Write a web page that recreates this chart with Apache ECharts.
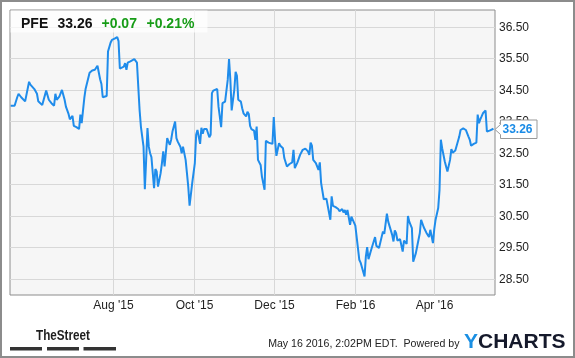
<!DOCTYPE html>
<html><head><meta charset="utf-8">
<script src="https://cdn.jsdelivr.net/npm/echarts@6/dist/echarts.min.js"></script>
<style>html,body{margin:0;padding:0;background:#fff}#c{width:575px;height:358px}</style>
</head><body><div id="c"></div>
<script>
const ticker = 'PFE';
const lastPrice = '33.26';
const change = '+0.07';
const changePct = '+0.21%';

const dates = [
 '2015-05-15','2015-05-18','2015-05-20','2015-05-21','2015-05-23','2015-05-26','2015-05-29','2015-05-30',
 '2015-06-02','2015-06-04','2015-06-05','2015-06-08','2015-06-09','2015-06-11','2015-06-13','2015-06-15','2015-06-17','2015-06-18','2015-06-19','2015-06-21','2015-06-23','2015-06-25','2015-06-26','2015-06-28','2015-06-29',
 '2015-07-01','2015-07-02','2015-07-04','2015-07-06','2015-07-07','2015-07-08','2015-07-10','2015-07-11','2015-07-14','2015-07-15','2015-07-16','2015-07-18','2015-07-20','2015-07-22','2015-07-23','2015-07-24','2015-07-27','2015-07-28','2015-07-29','2015-07-30','2015-07-31',
 '2015-08-02','2015-08-04','2015-08-05','2015-08-06','2015-08-07','2015-08-09','2015-08-10','2015-08-11','2015-08-12','2015-08-13','2015-08-14','2015-08-15','2015-08-17','2015-08-18','2015-08-19','2015-08-20','2015-08-21','2015-08-22','2015-08-24','2015-08-25','2015-08-26','2015-08-27','2015-08-28','2015-08-29','2015-08-30',
 '2015-09-01','2015-09-02','2015-09-03','2015-09-04','2015-09-06','2015-09-07','2015-09-08','2015-09-09','2015-09-11','2015-09-12','2015-09-13','2015-09-14','2015-09-15','2015-09-16','2015-09-17','2015-09-18','2015-09-19','2015-09-21','2015-09-22','2015-09-23','2015-09-25','2015-09-26','2015-09-27','2015-09-28','2015-09-30',
 '2015-10-02','2015-10-03','2015-10-04','2015-10-05','2015-10-06','2015-10-07','2015-10-08','2015-10-09','2015-10-11','2015-10-12','2015-10-13','2015-10-14','2015-10-15','2015-10-16','2015-10-19','2015-10-20','2015-10-22','2015-10-23','2015-10-25','2015-10-26','2015-10-27','2015-10-28','2015-10-29','2015-10-30',
 '2015-11-01','2015-11-02','2015-11-03','2015-11-04','2015-11-06','2015-11-07','2015-11-08','2015-11-10','2015-11-11','2015-11-12','2015-11-13','2015-11-14','2015-11-16','2015-11-17','2015-11-18','2015-11-19','2015-11-21','2015-11-22','2015-11-24','2015-11-25','2015-11-27','2015-11-28','2015-11-30',
 '2015-12-01','2015-12-02','2015-12-03','2015-12-05','2015-12-06','2015-12-08','2015-12-09','2015-12-10','2015-12-11','2015-12-13','2015-12-15','2015-12-16','2015-12-17','2015-12-19','2015-12-21','2015-12-23','2015-12-25','2015-12-27','2015-12-28','2015-12-29','2015-12-30','2015-12-31',
 '2016-01-02','2016-01-04','2016-01-05','2016-01-06','2016-01-08','2016-01-10','2016-01-11','2016-01-13','2016-01-14','2016-01-15','2016-01-17','2016-01-19','2016-01-20','2016-01-22','2016-01-23','2016-01-24','2016-01-25','2016-01-26','2016-01-28','2016-01-29',
 '2016-02-01','2016-02-02','2016-02-04','2016-02-05','2016-02-08','2016-02-09','2016-02-10','2016-02-11','2016-02-13','2016-02-16','2016-02-17','2016-02-19','2016-02-22','2016-02-23','2016-02-24','2016-02-25','2016-02-26','2016-02-29',
 '2016-03-01','2016-03-02','2016-03-03','2016-03-04','2016-03-06','2016-03-07','2016-03-08','2016-03-09','2016-03-11','2016-03-12','2016-03-13','2016-03-15','2016-03-16','2016-03-18','2016-03-19','2016-03-21','2016-03-22','2016-03-24','2016-03-26','2016-03-28','2016-03-29','2016-03-31',
 '2016-04-01','2016-04-02','2016-04-04','2016-04-05','2016-04-06','2016-04-07','2016-04-09','2016-04-11','2016-04-13','2016-04-14','2016-04-15','2016-04-17','2016-04-18','2016-04-20','2016-04-21','2016-04-23','2016-04-25','2016-04-27','2016-04-28','2016-04-29',
 '2016-05-01','2016-05-03','2016-05-04','2016-05-05','2016-05-06','2016-05-07','2016-05-08','2016-05-10','2016-05-11','2016-05-13','2016-05-16'
];
const prices = [
 33.99,33.99,34.26,34.37,34.26,34.13,34.75,34.66,
 34.52,34.37,34.13,34.01,33.99,34.47,34.18,34.07,33.99,34.37,34.18,34.28,34.49,34.18,33.96,33.73,33.56,
 33.67,33.35,33.31,33.25,33.71,33.44,34.24,34.53,35.04,35.02,35.11,35.13,35.26,34.83,34.68,34.26,34.30,35.71,35.76,36.00,36.08,
 36.12,36.17,36.04,35.17,35.21,35.23,35.34,35.13,35.36,35.32,35.40,35.34,35.47,35.53,35.36,34.60,33.86,33.33,32.69,31.34,32.27,33.28,32.69,32.48,32.36,
 31.37,31.98,31.90,31.42,31.85,32.17,32.54,32.06,32.96,32.85,32.75,32.91,33.17,33.22,33.49,32.96,32.85,32.69,32.48,32.69,32.27,31.85,31.42,30.82,31.53,
 32.17,33.07,33.22,33.28,32.78,33.29,33.10,33.25,33.25,33.20,32.99,33.07,34.39,34.47,34.52,33.96,33.31,34.07,34.12,34.18,34.81,35.47,34.81,33.84,
 34.49,35.07,34.94,34.18,34.12,33.91,33.75,33.65,33.80,33.73,33.35,33.25,33.20,32.91,33.33,32.27,32.11,31.74,31.32,32.88,32.82,32.78,32.78,
 33.63,32.91,32.40,32.80,32.72,32.64,32.33,32.38,32.06,32.14,32.19,32.59,32.01,32.19,32.43,32.59,32.63,32.54,32.43,32.82,32.72,32.27,
 32.17,31.95,32.19,31.53,31.02,31.04,31.09,30.37,31.11,30.81,30.77,30.71,30.64,30.71,30.60,30.68,30.53,30.68,30.21,30.47,
 30.18,30.13,29.10,29.01,28.57,29.20,29.50,29.12,29.41,29.82,29.54,29.47,30.00,29.92,29.96,30.56,30.31,29.89,
 29.68,30.03,29.94,29.71,29.75,29.79,29.36,29.71,29.60,30.49,30.31,30.10,29.04,29.31,29.52,29.94,30.37,30.13,29.96,29.82,30.05,29.63,
 30.07,30.37,30.74,31.32,32.91,32.64,32.22,31.90,32.27,32.61,32.50,32.57,32.61,33.01,33.22,33.27,33.22,33.01,32.91,32.72,
 32.78,32.82,33.71,33.44,33.56,33.65,33.75,33.84,33.17,33.20,33.26
];

const xTicks = ['2015-08-01','2015-10-01','2015-12-01','2016-02-01','2016-04-01'];
const xTickLabels = ["Aug '15","Oct '15","Dec '15","Feb '16","Apr '16"];
const yTicks = [28.5,29.5,30.5,31.5,32.5,33.5,34.5,35.5,36.5];
const footerText = 'May 16 2016, 2:02PM EDT.  Powered by';
const brandLeft = 'TheStreet';

const FONT = '"Liberation Sans", Arial, Helvetica, sans-serif';
const xMin = new Date(2015,4,14,12).getTime();
const xMax = new Date(2016,4,17,4).getTime();

const chart = echarts.init(document.getElementById('c'), null, {renderer:'canvas'});
chart.setOption({
  animation:false,
  grid:{left:10,top:10,width:485,height:285,show:true,backgroundColor:'#f6f6f6',borderColor:'#8c8c8c',borderWidth:1},
  xAxis:{type:'time',min:xMin,max:xMax,show:false},
  yAxis:{type:'value',min:27.98,max:37.03,show:false},
  series:[
    {
      type:'custom', silent:true, z:1, clip:false,
      data: xTicks.map((d,i)=>[d,i]),
      encode:{x:0,y:1},
      renderItem:(params,api)=>{
        const cs = params.coordSys;
        const px = Math.round(api.coord([api.value(0),30])[0]) + 0.5;
        return {type:'group',children:[
          {type:'line',shape:{x1:px,y1:cs.y,x2:px,y2:cs.y+cs.height},style:{stroke:'#d8d8d8',lineWidth:1}},
          {type:'text',x:px,y:cs.y+cs.height+11,style:{text:xTickLabels[api.value(1)],fill:'#222',font:'12px '+FONT,align:'center',verticalAlign:'middle'}}
        ]};
      }
    },
    {
      type:'custom', silent:true, z:1, clip:false,
      data: yTicks.map(v=>[xMin,v]),
      encode:{x:0,y:1},
      renderItem:(params,api)=>{
        const cs = params.coordSys;
        const v = api.value(1);
        const py = Math.round(api.coord([xMin,v])[1]) + 0.5;
        return {type:'group',children:[
          {type:'line',shape:{x1:cs.x,y1:py,x2:cs.x+cs.width,y2:py},style:{stroke:'#d8d8d8',lineWidth:1}},
          {type:'text',x:cs.x+cs.width+4,y:py,style:{text:v.toFixed(2),fill:'#222',font:'12px '+FONT,align:'left',verticalAlign:'middle'}}
        ]};
      }
    },
    {
      type:'line', z:3, showSymbol:false, silent:true,
      data: dates.map((d,i)=>[d,prices[i]]),
      lineStyle:{color:'#1f8ceb',width:2},
      itemStyle:{color:'#1f8ceb'}
    }
  ]
});

const yLast = chart.convertToPixel({yAxisIndex:0}, parseFloat(lastPrice));
const xRight = chart.convertToPixel({xAxisIndex:0}, xMax);
const yc = Math.round(yLast) + 0.5;
const bx = xRight + 5.5;

chart.setOption({
  graphic:{elements:[
    {type:'rect',z:10,shape:{x:1,y:1,width:573,height:356},style:{fill:null,stroke:'#8c8c8c',lineWidth:2},silent:true},
    {type:'rect',z:10,shape:{x:10.5,y:10.5,width:197,height:22},style:{fill:'rgba(255,255,255,0.72)'},silent:true},
    {type:'text',z:11,x:21,y:23.7,style:{text:ticker,fill:'#111',font:'bold 14px '+FONT,verticalAlign:'middle'}},
    {type:'text',z:11,x:57.5,y:23.7,style:{text:lastPrice,fill:'#111',font:'bold 14px '+FONT,verticalAlign:'middle'}},
    {type:'text',z:11,x:101.5,y:23.7,style:{text:change,fill:'#179c17',font:'bold 14px '+FONT,verticalAlign:'middle'}},
    {type:'text',z:11,x:146.5,y:23.7,style:{text:changePct,fill:'#179c17',font:'bold 14px '+FONT,verticalAlign:'middle'}},
    {type:'polygon',z:12,shape:{points:[[xRight,yc],[bx,yc-5],[bx,yc-9.5],[bx+36.5,yc-9.5],[bx+36.5,yc+9],[bx,yc+9],[bx,yc+5]]},style:{fill:'#fff',stroke:'#999',lineWidth:1},silent:true},
    {type:'text',z:13,x:bx+2,y:yc+0.5,style:{text:lastPrice,fill:'#1a8be6',font:'bold 12px '+FONT,verticalAlign:'middle'}},
    {type:'text',z:11,x:36,y:336,scaleX:0.78,originX:0,style:{text:brandLeft,fill:'#1e1e1e',font:'bold 15px '+FONT,verticalAlign:'middle'}},
    {type:'rect',z:11,shape:{x:10,y:347,width:32,height:3.5},style:{fill:'#333'}},
    {type:'rect',z:11,shape:{x:47,y:347,width:32,height:3.5},style:{fill:'#333'}},
    {type:'rect',z:11,shape:{x:83.5,y:347,width:32.5,height:3.5},style:{fill:'#333'}},
    {type:'text',z:11,x:459.5,y:344.5,style:{text:footerText,fill:'#222',font:'10.6px '+FONT,align:'right',verticalAlign:'middle'}},
    {type:'text',z:11,x:464,y:342,style:{text:'{y|Y}{c|CHARTS}',verticalAlign:'middle',rich:{y:{fill:'#1a8fe3',font:'bold 21px '+FONT},c:{fill:'#15192b',font:'bold 21px '+FONT}}}}
  ]}
});
</script>
</body></html>
